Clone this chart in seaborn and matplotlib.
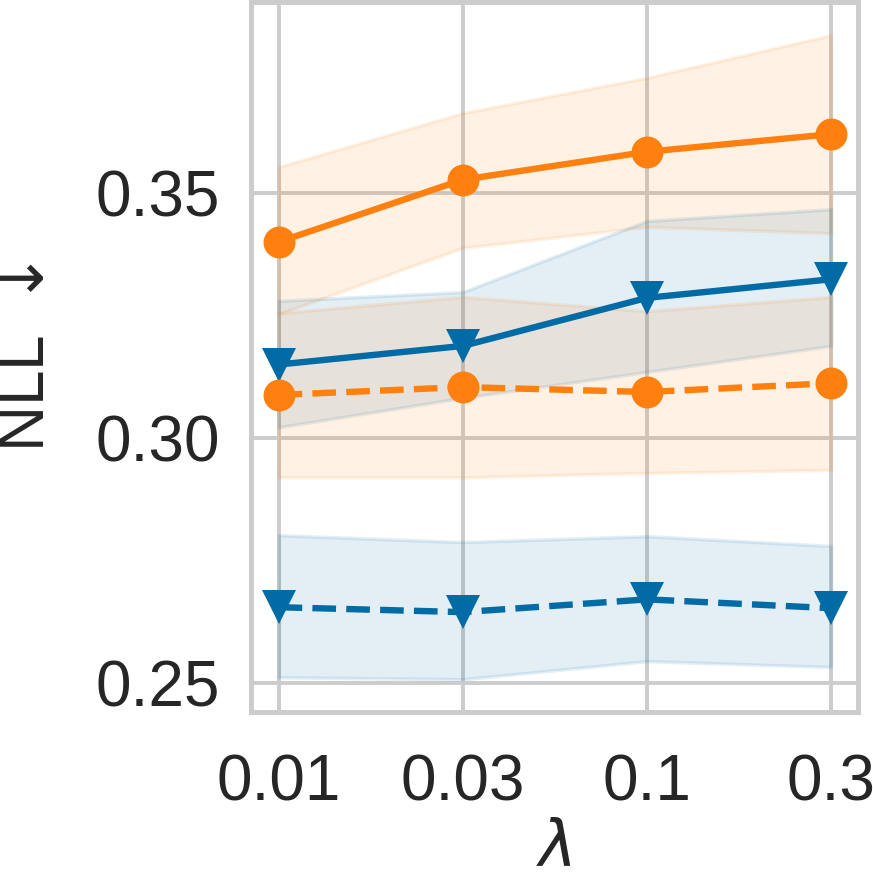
import matplotlib
matplotlib.use("Agg")
import matplotlib.pyplot as plt
import seaborn as sns
import pandas as pd
import numpy as np

# ---- data ----
lambdas = ["0.01", "0.03", "0.1", "0.3"]

orange_solid_mean = [0.3400, 0.3527, 0.3584, 0.3620]
orange_solid_low = [0.3253, 0.3388, 0.3431, 0.3418]
orange_solid_high = [0.3553, 0.3663, 0.3735, 0.3822]

blue_solid_mean = [0.3150, 0.3188, 0.3286, 0.3324]
blue_solid_low = [0.3022, 0.3082, 0.3135, 0.3188]
blue_solid_high = [0.3280, 0.3298, 0.3443, 0.3467]

orange_dashed_mean = [0.3088, 0.3104, 0.3094, 0.3112]
orange_dashed_low = [0.2920, 0.2920, 0.2929, 0.2935]
orange_dashed_high = [0.3255, 0.3288, 0.3259, 0.3288]

blue_dashed_mean = [0.2655, 0.2645, 0.2671, 0.2653]
blue_dashed_low = [0.2512, 0.2508, 0.2545, 0.2533]
blue_dashed_high = [0.2802, 0.2788, 0.2800, 0.2780]

yticks = [0.25, 0.30, 0.35]

BLUE = "#006BA4"
ORANGE = "#FF800E"

series = [
    ("orange_solid", ORANGE, "-", "o", orange_solid_mean, orange_solid_low, orange_solid_high),
    ("blue_solid", BLUE, "-", "v", blue_solid_mean, blue_solid_low, blue_solid_high),
    ("orange_dashed", ORANGE, "--", "o", orange_dashed_mean, orange_dashed_low, orange_dashed_high),
    ("blue_dashed", BLUE, "--", "v", blue_dashed_mean, blue_dashed_low, blue_dashed_high),
]

sns.set_theme(style="whitegrid")
plt.rcParams["font.family"] = ["Liberation Sans", "DejaVu Sans"]
plt.rcParams["mathtext.fontset"] = "dejavusans"

fig = plt.figure(figsize=(8.73, 8.77), dpi=100)
ax = fig.add_axes([0.287, 0.188, 0.696, 0.81])

xpos = np.arange(len(lambdas))

for name, color, ls, mk, mean, lo, hi in series:
    ax.fill_between(xpos, lo, hi, color=color, alpha=0.11, linewidth=2.5, zorder=1)

for name, color, ls, mk, mean, lo, hi in series:
    df = pd.DataFrame({"x": xpos, "y": mean})
    sns.lineplot(data=df, x="x", y="y", ax=ax, color=color, linestyle=ls,
                 linewidth=4.6, marker=mk, markersize=23 if mk == "o" else 25,
                 markeredgewidth=0, zorder=3)

ax.set_xticks(xpos)
ax.set_xticklabels(lambdas)
ax.set_yticks(yticks)
ax.set_yticklabels([f"{v:.2f}" for v in yticks])
ax.set_xlim(-0.152, 3.146)
ax.set_ylim(0.2441, 0.389)

ax.grid(True, color="#cccccc", linewidth=2.8)
for sp in ax.spines.values():
    sp.set_color("#cccccc")
    sp.set_linewidth(3.6)

ax.tick_params(axis="both", labelsize=46, colors="#262626", length=0)
ax.tick_params(axis="y", pad=22)
ax.tick_params(axis="x", pad=30)
ax.set_xlabel(r"$\lambda$", fontsize=46, color="#262626", labelpad=4)
ax.set_ylabel(r"NLL $\downarrow$", fontsize=46, color="#262626", labelpad=28)

fig.savefig("out.png", dpi=100)
